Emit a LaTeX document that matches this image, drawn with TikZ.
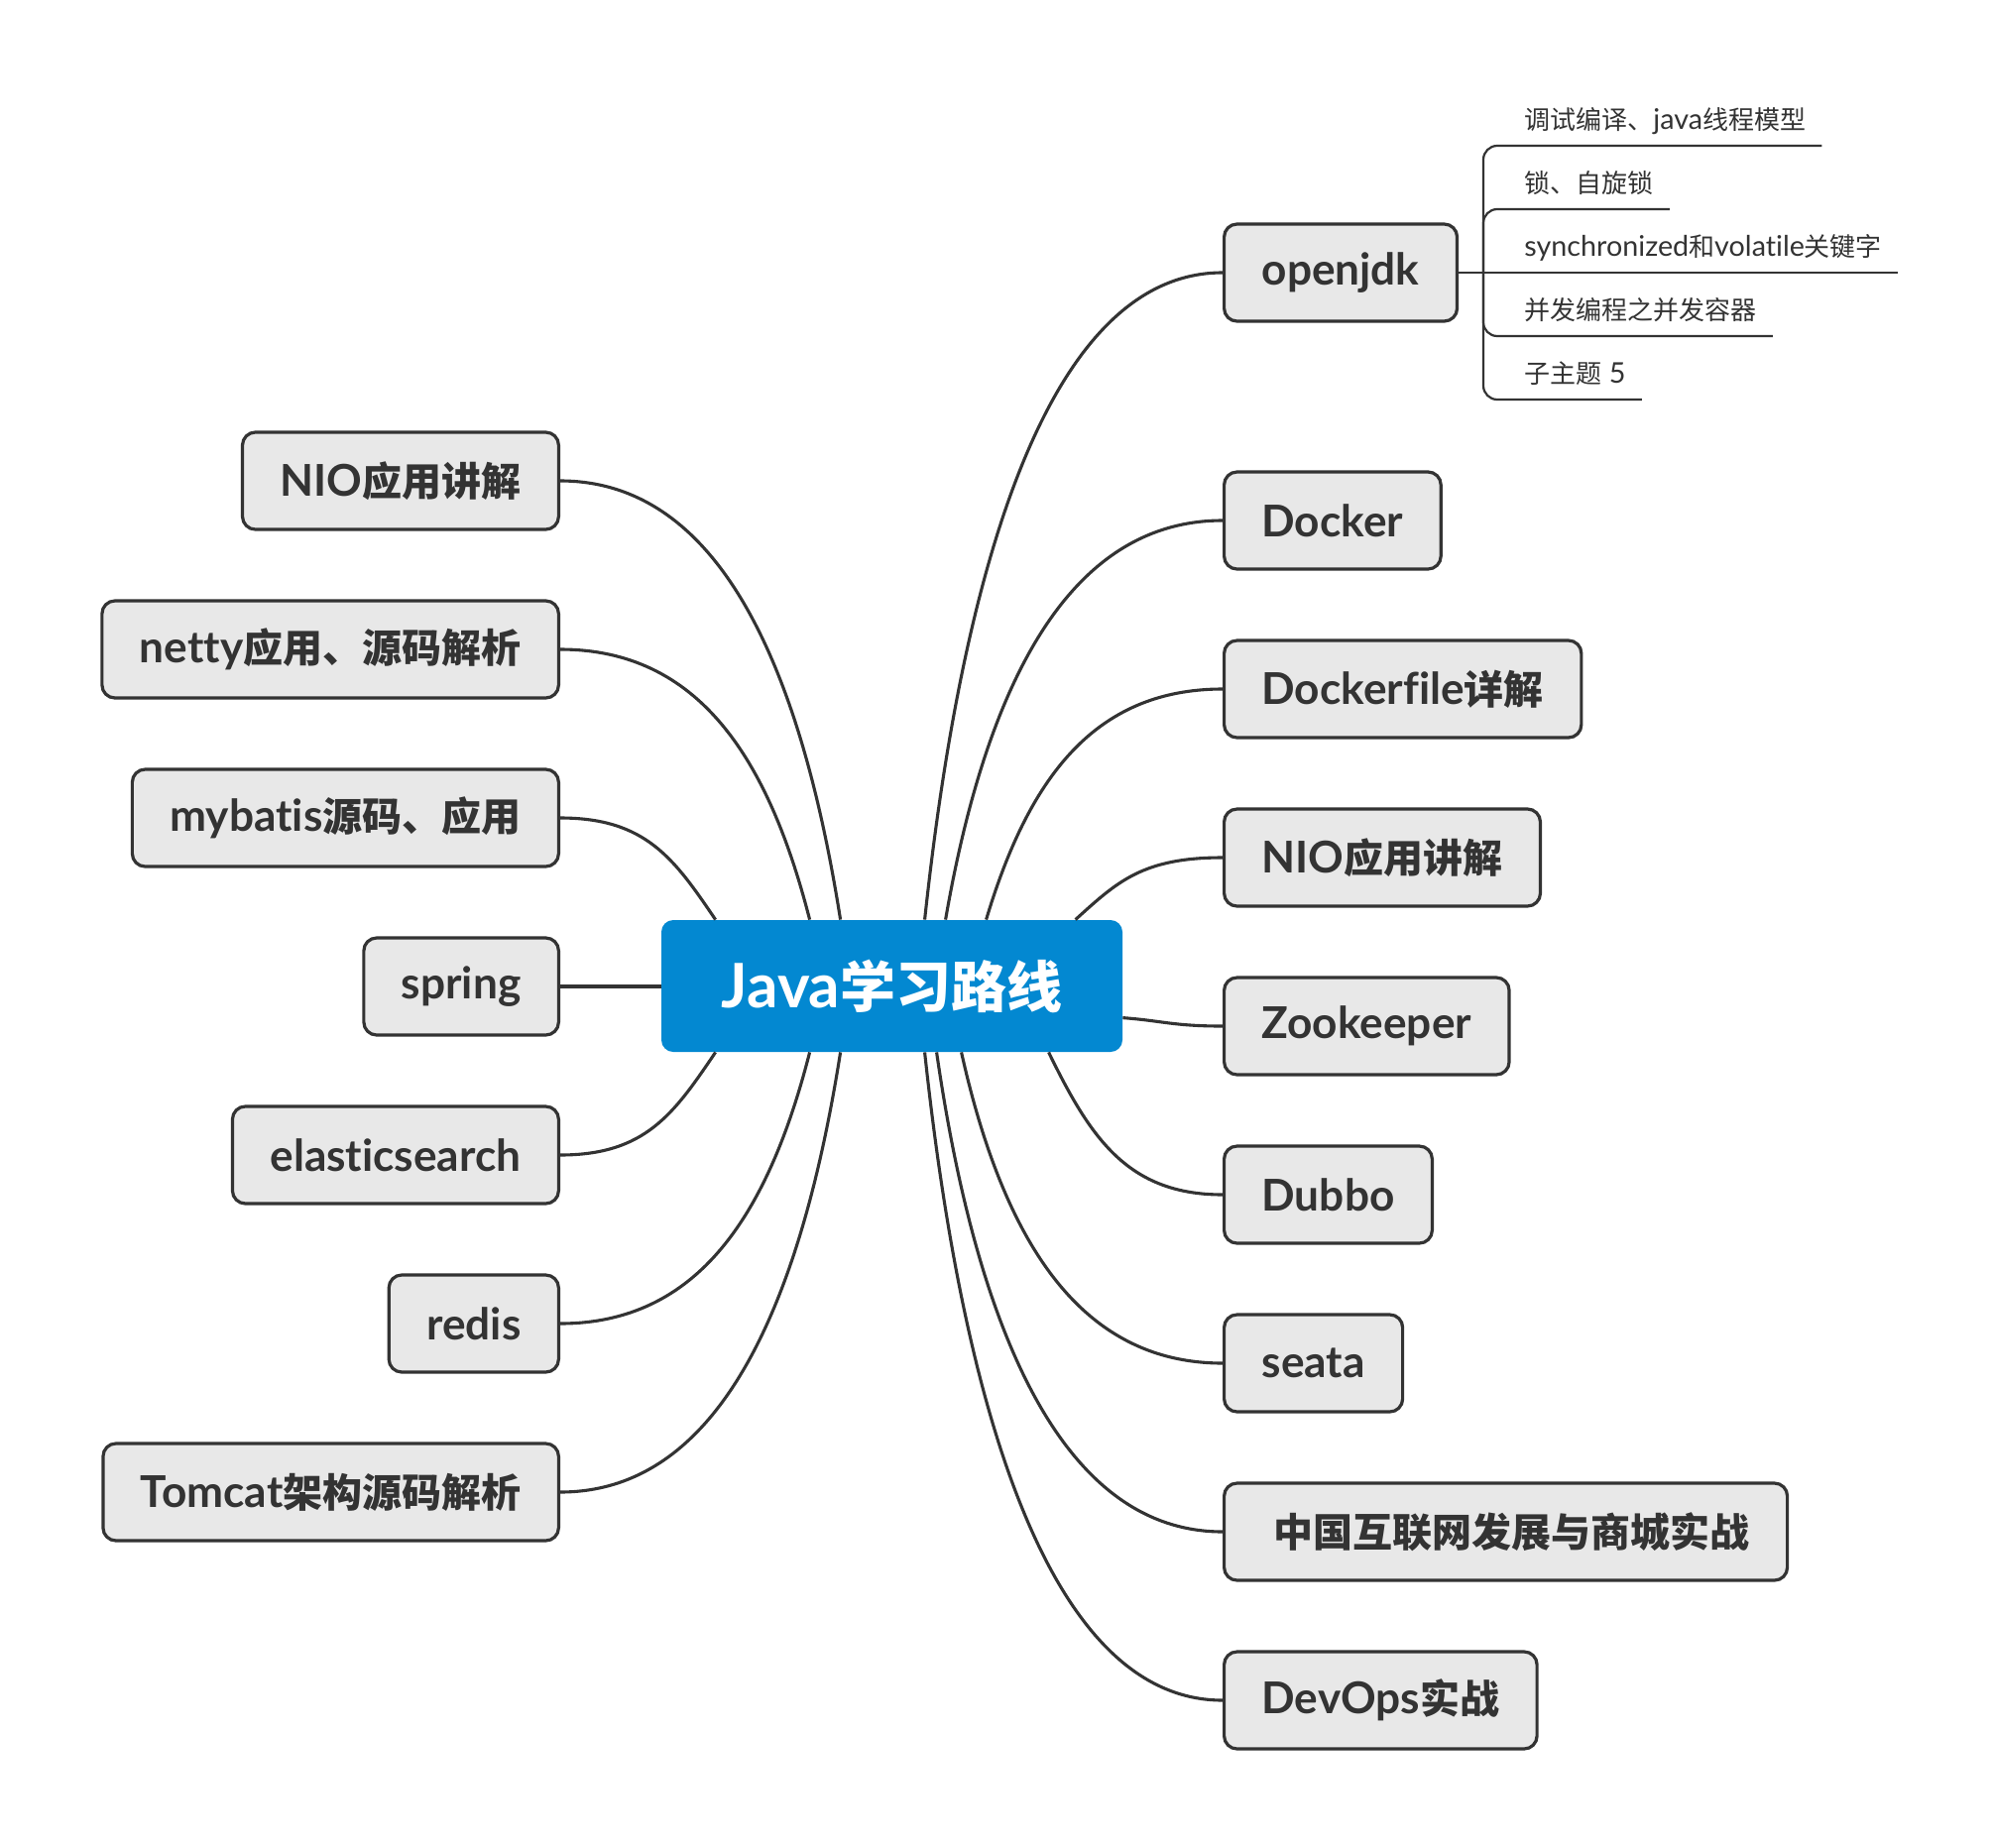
\documentclass[tikz,border=0pt]{standalone}
\usepackage{fontspec}
\setmainfont{Lato}[Scale=1.105,Ligatures=NoCommon]
\newfontfamily\cjkr{Noto Sans CJK SC}
\newfontfamily\cjkb{Noto Sans CJK SC Bold}
\newcommand\CB[1]{{\cjkb #1}}
\newcommand\CR[1]{{\cjkr #1}}
\usetikzlibrary{calc}
\definecolor{ink}{HTML}{333333}
\definecolor{topicfill}{HTML}{E8E8E8}
\definecolor{centralblue}{RGB}{3,136,209}
\begin{document}
\begin{tikzpicture}[x=0.5pt,y=-0.5pt,
  topic/.style={draw=ink, line width=1.6pt, fill=topicfill, rounded corners=6.5pt,
    minimum height=49pt, inner xsep=19pt, inner ysep=0pt, text=ink,
    font=\fontsize{20pt}{23pt}\selectfont\bfseries},
  rtopic/.style={topic, anchor=west},
  ltopic/.style={topic, anchor=east},
  central/.style={fill=centralblue, rounded corners=6pt, minimum width=232.5pt,
    minimum height=66.5pt, inner sep=0pt, text=white,
    font=\fontsize{28pt}{32pt}\selectfont\bfseries},
  sub/.style={anchor=south west, inner xsep=8pt, inner ysep=5pt, text height=10pt,
    text depth=3pt, text=ink, font=\fontsize{13pt}{15pt}\selectfont},
  conn/.style={draw=ink, line width=1.55pt},
  subconn/.style={draw=ink, line width=1.1pt, rounded corners=7pt}
]
\useasboundingbox (0,0) rectangle (2010,1864);
\fill[white] (0,0) rectangle (2010,1864);

% central
\node[central] (c) at (899.5,994.5) {Java\CB{学习路线}};

% left topics
\node[ltopic] (nioL) at (565,485) {NIO\CB{应用讲解}};
\node[ltopic] (netty) at (565,655) {netty\CB{应用、源码解析}};
\node[ltopic] (mybatis) at (565,825) {mybatis\CB{源码、应用}};
\node[ltopic] (spring) at (565,995) {spring};
\node[ltopic] (es) at (565,1165) {elasticsearch};
\node[ltopic] (redis) at (565,1335) {redis};
\node[ltopic] (tomcat) at (565,1505) {Tomcat\CB{架构源码解析}};

% right topics
\node[rtopic] (openjdk) at (1233,275) {openjdk};
\node[rtopic] (docker) at (1233,525) {Docker};
\node[rtopic] (dockerfile) at (1233,695) {Dockerfile\CB{详解}};
\node[rtopic] (nioR) at (1233,865) {NIO\CB{应用讲解}};
\node[rtopic] (zk) at (1233,1035) {Zookeeper};
\node[rtopic] (dubbo) at (1233,1205) {Dubbo};
\node[rtopic] (seata) at (1233,1375) {seata};
\node[rtopic] (mall) at (1233,1545) {\hspace*{6pt}\CB{中国互联网发展与商城实战}};
\node[rtopic] (devops) at (1233,1715) {DevOps\CB{实战}};

% subtopics of openjdk
\coordinate (j) at (1496,275);
\node[sub] (s1) at (1521,147) {\CR{调试编译、}java\CR{线程模型}};
\node[sub] (s2) at (1521,211) {\CR{锁、自旋锁}};
\node[sub] (s3) at (1521,275) {synchronized\CR{和}volatile\CR{关键字}};
\node[sub] (s4) at (1521,339) {\CR{并发编程之并发容器}};
\node[sub] (s5) at (1521,403) {\CR{子主题} 5};

\draw[subconn] (openjdk.east) -- (s3.south east);
\draw[subconn] (j) |- (s1.south east);
\draw[subconn] (j) |- (s2.south east);
\draw[subconn] (j) |- (s4.south east);
\draw[subconn] (j) |- (s5.south east);

% left connectors
\draw[conn] (nioL.east) .. controls +(156,0) and +(-42,-266) .. ($(c.north west)+(181,0)$);
\draw[conn] (netty.east) .. controls +(139,0) and +(-42,-164) .. ($(c.north west)+(150,0)$);
\draw[conn] (mybatis.east) .. controls +(86,0) and +(-42,-62) .. ($(c.north west)+(55,0)$);
\draw[conn] (spring.east) -- (spring.east -| c.west);
\draw[conn] (es.east) .. controls +(86,0) and +(-42,62) .. ($(c.south west)+(55,0)$);
\draw[conn] (redis.east) .. controls +(139,0) and +(-42,164) .. ($(c.south west)+(150,0)$);
\draw[conn] (tomcat.east) .. controls +(156,0) and +(-42,266) .. ($(c.south west)+(181,0)$);

% right connectors
\draw[conn] (openjdk.west) .. controls +(-165,0) and +(42,-391) .. ($(c.north west)+(266,0)$);
\draw[conn] (docker.west) .. controls +(-153,0) and +(42,-242) .. ($(c.north west)+(287,0)$);
\draw[conn] (dockerfile.west) .. controls +(-131,0) and +(42,-140) .. ($(c.north west)+(328,0)$);
\draw[conn] (nioR.west) .. controls +(-81,0) and +(42,-38) .. ($(c.north west)+(418,0)$);
\draw[conn] (zk.west) .. controls +(-50,0) and +(40,3) .. ($(c.north east)+(0,99)$);
\draw[conn] (dubbo.west) .. controls +(-96,0) and +(42,86) .. ($(c.south west)+(391,0)$);
\draw[conn] (seata.west) .. controls +(-145,0) and +(42,188) .. ($(c.south west)+(303,0)$);
\draw[conn] (mall.west) .. controls +(-158,0) and +(42,290) .. ($(c.south west)+(278,0)$);
\draw[conn] (devops.west) .. controls +(-165,0) and +(42,392) .. ($(c.south west)+(266,0)$);
\end{tikzpicture}
\end{document}
